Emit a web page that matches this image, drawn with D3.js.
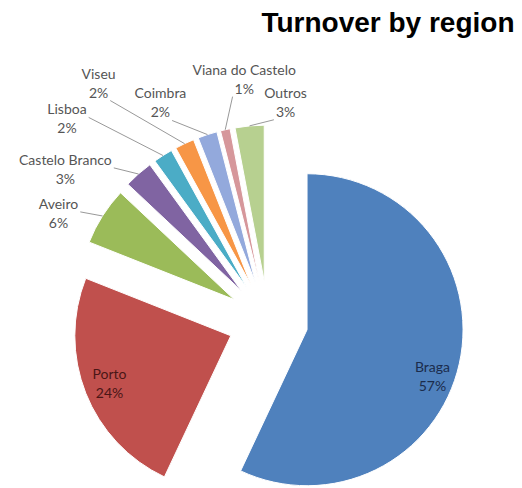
<!DOCTYPE html>
<html>
<head>
<meta charset="utf-8">
<script src="https://cdn.jsdelivr.net/npm/d3@7/dist/d3.min.js"></script>
<style>
  body { margin: 0; background: #fff; }
</style>
</head>
<body>
<div id="chart"></div>
<script>
// data
const regions = ["Braga", "Porto", "Aveiro", "Castelo Branco", "Lisboa", "Viseu", "Coimbra", "Viana do Castelo", "Outros"];
const shares = [57, 24, 6, 3, 2, 2, 2, 1, 3];
const colors = ["#4f81bd", "#c0504d", "#9bbb59", "#8064a2", "#4bacc6", "#f79646", "#93a9dc", "#d6979b", "#b7d090"];

// which labels sit inside the slice, and where each label goes relative to its anchor
const inside = [true, true, false, false, false, false, false, false, false];
const labelOffsets = [[-4, 8], [2, -10], [-44, -12], [-73, -14], [-96, -46], [-86, -70], [-47, -41], [19, -60], [36, -33]];

const width = 522, height = 488;
const cx = 268, cy = 321, radius = 156, explode = 40;

const svg = d3.select("#chart")
    .append("svg")
    .attr("width", width)
    .attr("height", height);

svg.append("text")
    .attr("x", 388)
    .attr("y", 32)
    .attr("text-anchor", "middle")
    .style("font-family", "'Liberation Sans', Arial, sans-serif")
    .style("font-weight", "bold")
    .style("font-size", "28px")
    .style("fill", "#000")
    .text("Turnover by region");

const pie = d3.pie().sort(null).value(d => d);
const arcs = pie(shares);
const arc = d3.arc().innerRadius(0).outerRadius(radius);

// unit vector for an angle measured clockwise from 12 o'clock
const dir = a => [Math.sin(a), -Math.cos(a)];

arcs.forEach(function (d, i) {
    const mid = (d.startAngle + d.endAngle) / 2;
    const u = dir(mid);
    d.apex = [cx + explode * u[0], cy + explode * u[1]];
    d.outer = [d.apex[0] + radius * u[0], d.apex[1] + radius * u[1]];
    d.inner = [d.apex[0] + radius * 0.85 * u[0], d.apex[1] + radius * 0.85 * u[1]];
});

svg.append("g")
    .selectAll("path")
    .data(arcs)
    .join("path")
    .attr("transform", d => `translate(${d.apex[0]}, ${d.apex[1]})`)
    .attr("d", arc)
    .attr("fill", (d, i) => colors[i])
    .attr("stroke", "#fff")
    .attr("stroke-width", 1);

const leaders = svg.append("g");
const labels = svg.append("g")
    .style("font-family", "Lato, 'Open Sans', sans-serif")
    .style("font-size", "14px");

arcs.forEach(function (d, i) {
    const base = inside[i] ? d.inner : d.outer;
    const x = base[0] + labelOffsets[i][0];
    const y = base[1] + labelOffsets[i][1];
    const fill = inside[i] ? (i === 0 ? "#1b2c4c" : "#4a1616") : "#555";

    const g = labels.append("g");
    const lines = [regions[i], shares[i] + "%"];
    const nodes = lines.map(function (t, k) {
        return g.append("text")
            .attr("x", x)
            .attr("y", y + k * 19)
            .attr("dy", "0.35em")
            .attr("text-anchor", "middle")
            .style("fill", fill)
            .text(t)
            .node();
    });

    if (inside[i]) return;

    // leader starts at the closest point of either text line
    let best = null;
    nodes.forEach(function (n) {
        const b = n.getBBox();
        const px = Math.max(b.x - 2, Math.min(d.outer[0], b.x + b.width + 2));
        const py = Math.max(b.y, Math.min(d.outer[1], b.y + b.height));
        const dist = Math.hypot(px - d.outer[0], py - d.outer[1]);
        if (!best || dist < best.dist) best = { x: px, y: py, dist: dist };
    });

    leaders.append("line")
        .attr("x1", best.x)
        .attr("y1", best.y)
        .attr("x2", d.outer[0])
        .attr("y2", d.outer[1])
        .attr("stroke", "#999")
        .attr("stroke-width", 1);
});
</script>
</body>
</html>
